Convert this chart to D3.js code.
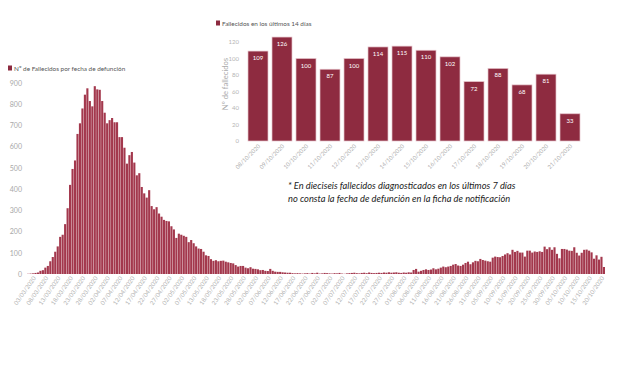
<!DOCTYPE html>
<html><head><meta charset="utf-8">
<script src="https://cdn.jsdelivr.net/npm/d3@7"></script>
<style>body{margin:0;background:#fff;} svg{display:block;font-family:Lato,'Open Sans',sans-serif;}</style>
</head><body><svg id="c" width="620" height="368"></svg>
<script>
// ---- DATA ----
const startDate = "2020-03-01";
const endDate = "2020-10-21";
const missingDates = ["2020-05-10"];
const deaths = [
  1, 2, 3, 5, 7, 15, 18, 30, 38, 60,
  80, 105, 130, 175, 185, 235, 310, 420, 495, 535,
  660, 710, 780, 845, 875, 815, 790, 885, 870, 868,
  815, 760, 710, 725, 735, 715, 715, 645, 645, 595,
  520, 560, 575, 525, 465, 475, 410, 380, 360, 395,
  320, 305, 315, 285, 270, 255, 250, 248, 225, 210,
  170, 190, 185, 180, 175, 150, 160, 145, 130, 120,
  118, 105, 88, 85, 70, 62, 65, 60, 62, 63,
  58, 55, 52, 50, 42, 35, 38, 38, 30, 27,
  32, 25, 24, 22, 18, 19, 15, 14, 24, 15,
  11, 10, 10, 8, 7, 6, 6, 4, 3, 4,
  3, 2, 3, 4, 2, 5, 3, 6, 2, 3,
  5, 4, 3, 2, 4, 3, 5, 2, 1, 3,
  4, 5, 6, 4, 3, 5, 6, 4, 7, 5,
  4, 5, 6, 5, 7, 6, 8, 6, 7, 8,
  6, 5, 7, 6, 8, 7, 19, 24, 11, 15,
  19, 22, 19, 21, 27, 22, 25, 30, 35, 32,
  35, 38, 44, 47, 40, 38, 44, 52, 58, 46,
  55, 62, 60, 71, 66, 63, 60, 58, 77, 82,
  80, 79, 85, 92, 98, 92, 114, 104, 109, 101,
  101, 82, 110, 110, 101, 106, 104, 107, 104, 129,
  117, 126, 114, 126, 95, 74, 118, 118, 115, 110,
  109, 126, 100, 87, 100, 114, 115, 110, 102, 72, 88, 68, 81, 33
];
const mainYTicks = [0, 100, 200, 300, 400, 500, 600, 700, 800, 900];
const mainLegend = "Nº de Fallecidos por fecha de defunción";

const insetDates = ["08/10/2020","09/10/2020","10/10/2020","11/10/2020","12/10/2020","13/10/2020","14/10/2020",
  "15/10/2020","16/10/2020","17/10/2020","18/10/2020","19/10/2020","20/10/2020","21/10/2020"];
const insetValues = [109, 126, 100, 87, 100, 114, 115, 110, 102, 72, 88, 68, 81, 33];
const insetYTicks = [0, 20, 40, 60, 80, 100, 120];
const insetLegend = "Fallecidos en los últimos 14 días";
const insetYTitle = "Nº de fallecidos";
const noteLines = ["* En dieciseis fallecidos diagnosticados en los últimos 7 días",
  "no consta la fecha de defunción en la ficha de notificación"];

// ---- CHART ----
const svg = d3.select("#c");
const parse = d3.timeParse("%Y-%m-%d");
const fmt = d3.timeFormat("%d/%m/%Y");
const missSet = new Set(missingDates);
const dates = d3.timeDay.range(parse(startDate), d3.timeDay.offset(parse(endDate), 1))
  .filter(d => !missSet.has(d3.timeFormat("%Y-%m-%d")(d))).map(fmt);
const mainData = dates.map((d, i) => ({date: d, v: deaths[i]}));

const mainColor = "#a3384d";
const x = d3.scaleBand().domain(dates).range([27, 605]).paddingInner(0.14);
const y = d3.scaleLinear().domain([0, 900]).range([274, 83]);

const g = svg.append("g");
g.selectAll("rect.m").data(mainData).join("rect").attr("class","m")
  .attr("x", d => x(d.date)).attr("width", x.bandwidth())
  .attr("y", d => y(d.v)).attr("height", d => y(0) - y(d.v))
  .attr("fill", mainColor);

const yAx = g.append("g").attr("transform","translate(24,0)")
  .call(d3.axisLeft(y).tickValues(mainYTicks).tickSize(0).tickPadding(2));
yAx.select(".domain").remove();
yAx.selectAll("text").attr("fill","#a8a8a8").style("font-size","7px").style("font-family","Lato");

const xTicks = dates.filter((d, i) => i >= 2 && (i - 2) % 5 === 0);
const xAx = g.append("g").attr("transform","translate(0,276)")
  .call(d3.axisBottom(x).tickValues(xTicks).tickSize(0).tickPadding(0));
xAx.select(".domain").remove();
xAx.selectAll("text").attr("fill","#b0b0b0").style("font-size","6px").style("font-family","Lato")
  .attr("text-anchor","end").attr("dy","0.3em").attr("y", 2)
  .attr("transform","rotate(-55)");

// main legend
svg.append("rect").attr("x",8).attr("y",65.5).attr("width",4).attr("height",5).attr("fill","#8c2a3f");
svg.append("text").attr("x",14).attr("y",70.5).text(mainLegend)
  .attr("fill","#555").style("font-size","6.4px");

// ---- INSET ----
const xi = d3.scaleBand().domain(insetDates).range([246, 582]).paddingInner(1/6).paddingOuter(1/12);
const yi = d3.scaleLinear().domain([0, 120]).range([141, 42]);
const gi = svg.append("g");
gi.selectAll("rect").data(insetValues).join("rect")
  .attr("x", (d, i) => xi(insetDates[i])).attr("width", xi.bandwidth())
  .attr("y", d => yi(d)).attr("height", d => yi(0) - yi(d))
  .attr("fill", "#8e2b40").attr("stroke","#e6c3ca").attr("stroke-width",0.7);
gi.selectAll("text.v").data(insetValues).join("text").attr("class","v")
  .attr("x", (d, i) => xi(insetDates[i]) + xi.bandwidth()/2).attr("y", d => yi(d) + 9)
  .attr("text-anchor","middle").attr("fill","#fff").style("font-size","6px").text(d => d);

const yiAx = gi.append("g").attr("transform","translate(241,0)")
  .call(d3.axisLeft(yi).tickValues(insetYTicks).tickSize(0).tickPadding(2));
yiAx.select(".domain").remove();
yiAx.selectAll("text").attr("fill","#b5b5b5").style("font-size","6px").style("font-family","Lato");

const xiAx = gi.append("g").attr("transform","translate(0,144)")
  .call(d3.axisBottom(xi).tickSize(0).tickPadding(0));
xiAx.select(".domain").remove();
xiAx.selectAll("text").attr("fill","#b0b0b0").style("font-size","5.8px").style("font-family","Lato")
  .attr("text-anchor","end").attr("dy","0.3em").attr("y", 2)
  .attr("transform","rotate(-45)");

svg.append("text").attr("transform","translate(228,84) rotate(-90)").attr("text-anchor","middle")
  .attr("fill","#aaa").style("font-size","7.6px").text(insetYTitle);

svg.append("rect").attr("x",216).attr("y",20.5).attr("width",4).attr("height",5).attr("fill","#8c2a3f");
svg.append("text").attr("x",222).attr("y",25.5).text(insetLegend)
  .attr("fill","#555").style("font-size","6.4px");

// note
svg.selectAll("text.note").data(noteLines).join("text").attr("class","note")
  .attr("x", 288).attr("y", (d, i) => 189 + i * 13)
  .attr("fill","#222").style("font-size","9.3px").style("font-style","italic").text(d => d);
</script></body></html>
